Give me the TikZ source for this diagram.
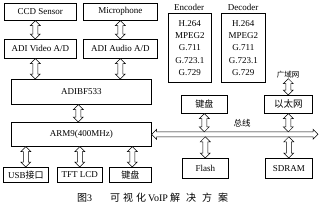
\documentclass[tikz,border=0pt]{standalone}
\usepackage{fontspec}
\setmainfont{Liberation Serif}
\newfontfamily\cjk{Noto Sans CJK SC}
\usetikzlibrary{calc}
\begin{document}
\begin{tikzpicture}[x=1pt,y=-1pt,
  box/.style={draw, line width=0.6pt, inner sep=0pt, anchor=north west,
    font=\fontsize{9}{10}\selectfont},
  lbl/.style={inner sep=0pt, font=\fontsize{9}{10}\selectfont},
  varr/.style={draw, line width=0.5pt, fill=white,
    to path={let \p1=(\tikztostart), \p2=(\tikztotarget) in
      (\x1,\y1) -- (\x1+5pt,\y1-5pt) -- (\x1+2.5pt,\y1-5pt) -- (\x1+2.5pt,\y2+5pt)
      -- (\x1+5pt,\y2+5pt) -- (\x1,\y2) -- (\x1-5pt,\y2+5pt) -- (\x1-2.5pt,\y2+5pt)
      -- (\x1-2.5pt,\y1-5pt) -- (\x1-5pt,\y1-5pt) -- cycle}},
  harr/.style={draw, line width=0.5pt, fill=white,
    to path={let \p1=(\tikztostart), \p2=(\tikztotarget) in
      (\x1,\y1) -- (\x1+5pt,\y1+5pt) -- (\x1+5pt,\y1+2.5pt) -- (\x2-5pt,\y1+2.5pt)
      -- (\x2-5pt,\y1+5pt) -- (\x2,\y1) -- (\x2-5pt,\y1-5pt) -- (\x2-5pt,\y1-2.5pt)
      -- (\x1+5pt,\y1-2.5pt) -- (\x1+5pt,\y1-5pt) -- cycle}},
]
\useasboundingbox (0,0) rectangle (320,209);

% left column
\node[box, minimum width=72, minimum height=17] (ccd) at (4,3) {CCD Sensor};
\node[box, minimum width=74, minimum height=17] (mic) at (83,3) {Microphone};
\node[box, minimum width=72, minimum height=19] (vid) at (4,39) {ADI Video A/D};
\node[box, minimum width=74, minimum height=19] (aud) at (83,39) {ADI Audio A/D};
\node[box, minimum width=140, minimum height=25] (bf) at (11,79) {ADIBF533};
\node[box, minimum width=140, minimum height=24] (arm) at (11,122) {ARM9(400MHz)};
\node[box, minimum width=45, minimum height=15] (usb) at (3,167) {USB{\cjk 接口}};
\node[box, minimum width=45, minimum height=15] (tft) at (57,167) {TFT LCD};
\node[box, minimum width=42, minimum height=15] (kba) at (109,167) {\cjk 键盘};

% codec boxes
\node[lbl] (encl) at (189,7) {Encoder};
\node[lbl] (decl) at (243,7) {Decoder};
\node[box, minimum width=43, minimum height=69, align=center,
  font=\fontsize{9}{12.3}\selectfont] (enc) at (168,13)
  {H.264\\MPEG2\\G.711\\G.723.1\\G.729};
\node[box, minimum width=44, minimum height=69, align=center,
  font=\fontsize{9}{12.3}\selectfont] (dec) at (221,13)
  {H.264\\MPEG2\\G.711\\G.723.1\\G.729};

% right part
\node[lbl, font=\fontsize{7.5}{8}\cjk] (wan) at (288,75) {广域网};
\node[box, minimum width=46, minimum height=18, font=\fontsize{9}{10}\cjk] (kbb) at (181,95) {键盘};
\node[box, minimum width=48, minimum height=18, font=\fontsize{9.5}{10}\cjk] (eth) at (264,95) {以太网};
\node[box, minimum width=46, minimum height=20] (flash) at (182,158) {Flash};
\node[box, minimum width=47, minimum height=20] (sdram) at (265,158) {SDRAM};
\node[lbl, font=\fontsize{8.5}{9}\cjk] (busl) at (242,123) {总线};

% bus
\coordinate (busend) at (318,134);
\draw[harr] (arm.east) to (busend);
\coordinate (bustop) at ([yshift=2.5pt]arm.east);
\coordinate (busbot) at ([yshift=-2.5pt]arm.east);

% arrows
\draw[varr] ([xshift=-5pt]ccd.south) to ([xshift=-5pt]vid.north);
\draw[varr] (mic.south) to (aud.north);
\draw[varr] ([xshift=-5pt]vid.south) to ([xshift=-5pt]vid.south |- bf.north);
\draw[varr] (aud.south) to (aud.south |- bf.north);
\draw[varr] ([xshift=-3pt]bf.south) to ([xshift=-3pt]arm.north);
\draw[varr] (usb.north |- arm.south) to (usb.north);
\draw[varr] (tft.north |- arm.south) to (tft.north);
\draw[varr] ([xshift=2pt]kba.north |- arm.south) to ([xshift=2pt]kba.north);
\draw[varr] (eth.north |- wan.south) to (eth.north);
\draw[varr] (kbb.south) to (kbb.south |- bustop);
\draw[varr] (eth.south) to (eth.south |- bustop);
\draw[varr] (flash.north |- busbot) to (flash.north);
\draw[varr] (sdram.north |- busbot) to (sdram.north);

% caption
\node[lbl, font=\fontsize{10}{11}\selectfont, anchor=west] (cap) at (77,198)
  {{\cjk 图}3\hspace{18pt}{\cjk 可\hspace{3pt}视\hspace{3pt}化}\hspace{2pt}VoIP\hspace{2pt}{\cjk 解\hspace{6pt}决\hspace{6pt}方\hspace{6pt}案}};
\end{tikzpicture}
\end{document}
